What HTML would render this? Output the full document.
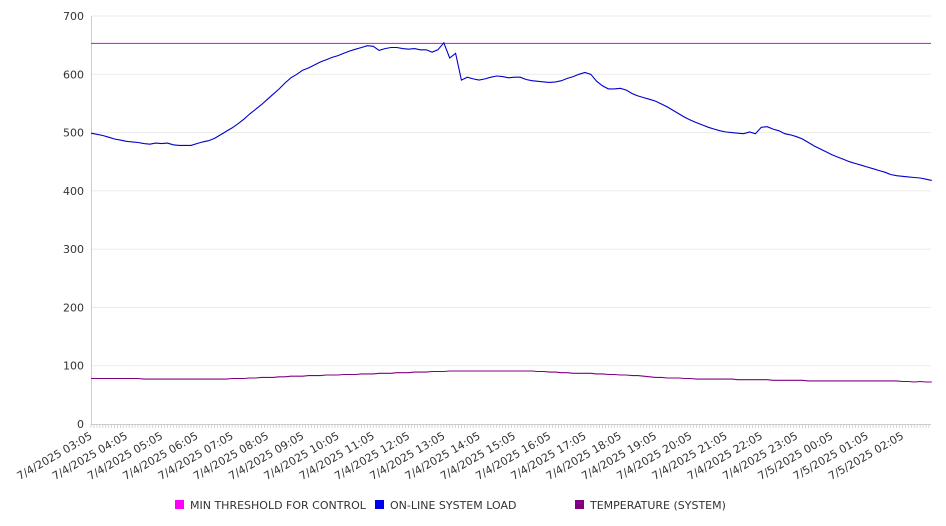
<!DOCTYPE html>
<html><head><meta charset="utf-8">
<style>
body{margin:0;background:#fff;}
svg{display:block;font-family:"DejaVu Sans","Liberation Sans",sans-serif;}
</style></head>
<body>
<svg id="chart" width="946" height="526" viewBox="0 0 946 526" xmlns="http://www.w3.org/2000/svg">
<g id="grid"></g>
<g id="yaxis"></g>
<g id="xaxis"></g>
<g id="series"></g>
<g id="legend"></g>
</svg>
<script>
const yTicks = [0,100,200,300,400,500,600,700];
const xTickLabels = ["7/4/2025 03:05","7/4/2025 04:05","7/4/2025 05:05","7/4/2025 06:05","7/4/2025 07:05","7/4/2025 08:05","7/4/2025 09:05","7/4/2025 10:05","7/4/2025 11:05","7/4/2025 12:05","7/4/2025 13:05","7/4/2025 14:05","7/4/2025 15:05","7/4/2025 16:05","7/4/2025 17:05","7/4/2025 18:05","7/4/2025 19:05","7/4/2025 20:05","7/4/2025 21:05","7/4/2025 22:05","7/4/2025 23:05","7/5/2025 00:05","7/5/2025 01:05","7/5/2025 02:05"];
// 10-minute samples starting 03:05
const loadValues = [499,497,495,492,489,487,485,484,483,481,480,482,481,482,479,478,478,478,481,484,486,490,496,502,508,515,523,532,540,548,557,566,575,585,594,600,607,611,616,621,625,629,632,636,640,643,646,649,648,641,644,646,646,644,643,644,642,642,638,642,654,628,636,590,595,592,590,592,595,597,596,594,595,595,591,589,588,587,586,587,589,593,596,600,603,600,588,580,575,575,576,573,567,563,560,557,554,549,544,538,532,526,521,517,513,509,506,503,501,500,499,498,501,498,509,510,506,503,498,496,493,489,483,477,472,467,462,458,454,450,447,444,441,438,435,432,428,426,425,424,423,422,420,418];
const tempValues = [78,78,78,78,78,78,78,78,78,77,77,77,77,77,77,77,77,77,77,77,77,77,77,77,78,78,78,79,79,80,80,80,81,81,82,82,82,83,83,83,84,84,84,85,85,85,86,86,86,87,87,87,88,88,88,89,89,89,90,90,90,91,91,91,91,91,91,91,91,91,91,91,91,91,91,91,90,90,89,89,88,88,87,87,87,87,86,86,85,85,84,84,83,83,82,81,80,80,79,79,79,78,78,77,77,77,77,77,77,77,76,76,76,76,76,76,75,75,75,75,75,75,74,74,74,74,74,74,74,74,74,74,74,74,74,74,74,74,73,73,72,73,72,72];
const thresholdValue = 653;

const NS="http://www.w3.org/2000/svg";
const L=91,R=931,T=16,B=424;
const stepPerHour=35.28;
const y=v=>B-(v/700)*(B-T);
const xIdx=i=>L+i*stepPerHour/6;
function mk(tag,attrs,parent){const e=document.createElementNS(NS,tag);for(const k in attrs)e.setAttribute(k,attrs[k]);parent.appendChild(e);return e;}
const grid=document.getElementById('grid'),ya=document.getElementById('yaxis'),xa=document.getElementById('xaxis'),ser=document.getElementById('series'),leg=document.getElementById('legend');

yTicks.forEach(v=>{
  if(v>0){const g=mk('line',{x1:L,x2:R,y1:y(v),y2:y(v),stroke:'#ebebeb','stroke-width':1},grid);
  
  }
  const t=mk('text',{x:84,y:y(v)+4,'text-anchor':'end','font-size':11,fill:'#333'},ya);
  t.textContent=v;
  
  
});
const ax=mk('line',{x1:L+0.5,x2:L+0.5,y1:T,y2:B,stroke:'#ccc'},ya);


const bx=mk('line',{x1:L,x2:R,y1:B+0.5,y2:B+0.5,stroke:'#ccc'},xa);


let p='';
for(let i=0;i*stepPerHour/12<=R-L;i++){const xx=(L+i*stepPerHour/12).toFixed(1);p+=`M${xx} ${B}V${B+4}`;}
const mt=mk('path',{d:p,stroke:'#ccc','stroke-width':0.8,fill:'none'},xa);


xTickLabels.forEach((s,i)=>{
  const xx=L+i*stepPerHour+2;
  const t=mk('text',{x:xx,y:B+14,'text-anchor':'end','font-size':11,fill:'#333',transform:`rotate(-30 ${xx} ${B+14})`},xa);
  t.textContent=s;
  
  
});

const th=mk('line',{x1:L,x2:R,y1:y(thresholdValue),y2:y(thresholdValue),stroke:'#e000e0','stroke-width':1},ser);


function line(vals,color,name){
  const d=vals.map((v,i)=>(i?'L':'M')+xIdx(i).toFixed(1)+' '+y(v).toFixed(1)).join('');
  const e=mk('path',{d:d,stroke:color,'stroke-width':1.1,fill:'none'},ser);
  
  
}
line(loadValues,'#0000cc','online-system-load-line');
line(tempValues,'#800080','temperature-line');

[['#ff00ff','MIN THRESHOLD FOR CONTROL',175],['#0000ee','ON-LINE SYSTEM LOAD',375],['#800080','TEMPERATURE (SYSTEM)',575]].forEach(([c,s,x0])=>{
  const g=mk('g',{},leg);
  
  
  mk('rect',{x:x0,y:500,width:9,height:9,fill:c},g);
  const t=mk('text',{x:x0+15,y:509,'font-size':11,fill:'#333'},g);
  t.textContent=s;
});
</script>
</body></html>
